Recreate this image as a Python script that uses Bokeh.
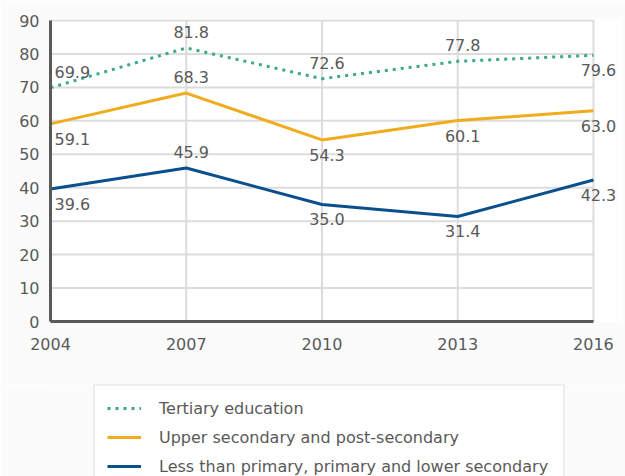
from bokeh.plotting import figure
from bokeh.layouts import column
from bokeh.models import ColumnDataSource, Legend, LegendItem, FixedTicker, Range1d, LabelSet
from bokeh.core.properties import value
from bokeh.embed import file_html
from bokeh.resources import INLINE

# ---- data ----
years = [2004, 2007, 2010, 2013, 2016]
tertiary = [69.9, 81.8, 72.6, 77.8, 79.6]
upper_secondary = [59.1, 68.3, 54.3, 60.1, 63.0]
lower_secondary = [39.6, 45.9, 35.0, 31.4, 42.3]
series_names = [
    "Tertiary education",
    "Upper secondary and post-secondary",
    "Less than primary, primary and lower secondary",
]
y_ticks = [0, 10, 20, 30, 40, 50, 60, 70, 80, 90]

# label side for each point (style only)
tertiary_side = ["above", "above", "above", "above", "below"]
upper_side = ["below", "above", "below", "below", "below"]
lower_side = ["below", "above", "below", "below", "below"]

TEXT = "#595959"
FONT = "DejaVu Sans"
GRID = "#dcdcdc"
BG = "#fbfbfb"
C_TER = "#3aa98d"
C_UPP = "#f0ac1c"
C_LOW = "#0b4f8d"
STYLES = [(C_TER, "3 5"), (C_UPP, "solid"), (C_LOW, "solid")]
SERIES = [tertiary, upper_secondary, lower_secondary]

x_first, x_last = years[0], years[-1]
y_top = y_ticks[-1]

p = figure(width=625, height=384, output_backend="svg", toolbar_location=None,
           x_range=Range1d(x_first, x_last + 0.62), y_range=Range1d(0, y_top + 0.3),
           min_border_left=50, min_border_right=4, min_border_top=19,
           min_border_bottom=63)
p.background_fill_color = "#ffffff"
p.border_fill_color = BG
p.outline_line_color = None

for ax in (p.xaxis[0], p.yaxis[0]):
    ax.axis_line_color = "#595959"
    ax.axis_line_width = 3
    ax.major_tick_line_color = None
    ax.minor_tick_line_color = None
    ax.major_label_text_font = FONT
    ax.major_label_text_font_size = "16px"
    ax.major_label_text_color = TEXT
p.xaxis[0].ticker = FixedTicker(ticks=years)
p.xaxis[0].bounds = (x_first, x_last)
p.yaxis[0].ticker = FixedTicker(ticks=y_ticks)
p.yaxis[0].bounds = (0, y_top)
p.xaxis[0].major_label_standoff = 10
p.yaxis[0].major_label_standoff = 5

p.xgrid.grid_line_color = None
p.ygrid.grid_line_color = None
# grid lines limited to the data span
p.segment(x0=[x_first] * len(y_ticks), x1=[x_last] * len(y_ticks), y0=y_ticks, y1=y_ticks,
          line_color=GRID, line_width=2, level="underlay")
p.segment(x0=years, x1=years, y0=[0] * len(years), y1=[y_top] * len(years),
          line_color=GRID, line_width=2, level="underlay")

for vals, side, (color, dash) in zip(SERIES, [tertiary_side, upper_side, lower_side], STYLES):
    dy = [16 if s == "above" else -15 for s in side]
    align = ["left" if i == 0 else "center" for i in range(len(years))]
    dx = [4 if i == 0 else 5 for i in range(len(years))]
    src = ColumnDataSource(dict(x=years, y=vals, lab=["%.1f" % v for v in vals],
                                dx=dx, dy=dy, align=align))
    p.line("x", "y", source=src, line_color=color, line_width=3, line_dash=dash)
    ls = LabelSet(x="x", y="y", text="lab", source=src, x_offset="dx", y_offset="dy",
                  text_align="align", text_baseline="middle",
                  text_font=value(FONT), text_font_size="16px", text_color=TEXT)
    p.add_layout(ls)

# ---- legend panel (its lines lie outside its view; only the legend shows) ----
q = figure(width=625, height=92, output_backend="svg", toolbar_location=None,
           x_range=Range1d(0, 1), y_range=Range1d(0, 1),
           x_axis_type=None, y_axis_type=None,
           min_border_left=0, min_border_right=0, min_border_top=0, min_border_bottom=0)
q.background_fill_color = BG
q.border_fill_color = BG
q.outline_line_color = None
q.grid.visible = False

legend_renderers = [q.line(x=years, y=vals, line_color=c, line_width=3, line_dash=d)
                    for vals, (c, d) in zip(SERIES, STYLES)]

legend = Legend(items=[LegendItem(label=n, renderers=[r]) for n, r in zip(series_names, legend_renderers)],
                location=(43, -14))
legend.margin = 0
legend.padding = 12
legend.spacing = 9
legend.label_height = 20
legend.glyph_height = 20
legend.glyph_width = 34
legend.label_standoff = 18
legend.label_width = 392
legend.label_text_font = FONT
legend.label_text_font_size = "16px"
legend.label_text_color = TEXT
legend.border_line_color = "#dedede"
legend.border_line_width = 2
legend.background_fill_color = "#ffffff"
legend.background_fill_alpha = 1.0
q.add_layout(legend, "center")

layout = column(p, q, spacing=0)
open("out.html", "w").write(file_html(layout, INLINE))
